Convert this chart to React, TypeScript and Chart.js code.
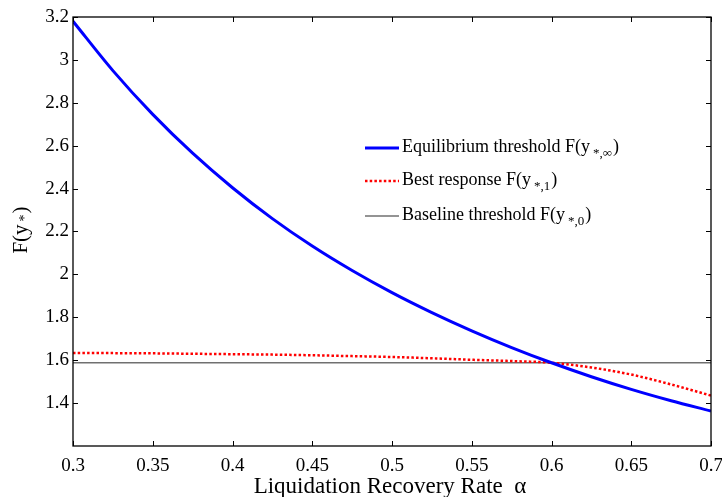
import React, { useEffect, useRef } from "react";
import { Chart, registerables } from "chart.js";

Chart.register(...registerables);

const ALPHA = [0.3, 0.325, 0.35, 0.375, 0.4, 0.425, 0.45, 0.475, 0.5, 0.525, 0.55, 0.575, 0.6, 0.625, 0.65, 0.675, 0.7];
const EQUILIBRIUM = [3.18, 2.95, 2.746, 2.565, 2.404, 2.26, 2.132, 2.018, 1.915, 1.822, 1.737, 1.659, 1.588, 1.523, 1.464, 1.411, 1.363];
const BEST_RESPONSE = [1.634, 1.633, 1.632, 1.63, 1.628, 1.626, 1.623, 1.619, 1.615, 1.609, 1.602, 1.596, 1.588, 1.566, 1.533, 1.487, 1.435];
const BASELINE = [1.588, 1.588, 1.588, 1.588, 1.588, 1.588, 1.588, 1.588, 1.588, 1.588, 1.588, 1.588, 1.588, 1.588, 1.588, 1.588, 1.588];
const X_TICKS = [0.3, 0.35, 0.4, 0.45, 0.5, 0.55, 0.6, 0.65, 0.7];
const Y_TICKS = [1.4, 1.6, 1.8, 2, 2.2, 2.4, 2.6, 2.8, 3, 3.2];

const LEGEND = [
  { label: "Equilibrium threshold F(y", sub: "*,∞", color: "#0000ff", width: 3, dash: [] as number[] },
  { label: "Best response F(y", sub: "*,1", color: "#ff0000", width: 2.5, dash: [2.5, 2.2] },
  { label: "Baseline threshold F(y", sub: "*,0", color: "#707070", width: 1.5, dash: [] as number[] },
];

const FONT = '"Liberation Serif", "Times New Roman", serif';

const fmt = (v: number) => String(Number(v.toFixed(2)));

const decorPlugin = {
  id: "decor",
  afterDraw(chart: any) {
    const { ctx, chartArea } = chart;
    const { left, right, top, bottom } = chartArea;
    const xs = chart.scales.x;
    const ys = chart.scales.y;
    ctx.save();
    ctx.strokeStyle = "#000";
    ctx.lineWidth = 1.3;
    ctx.setLineDash([]);
    ctx.strokeRect(left, top, right - left, bottom - top);
    const tl = 5;
    ctx.lineWidth = 1;
    ctx.beginPath();
    X_TICKS.forEach((v) => {
      const p = Math.round(xs.getPixelForValue(v)) + 0.5;
      ctx.moveTo(p, bottom);
      ctx.lineTo(p, bottom - tl);
      ctx.moveTo(p, top);
      ctx.lineTo(p, top + tl);
    });
    Y_TICKS.forEach((v) => {
      const p = Math.round(ys.getPixelForValue(v)) + 0.5;
      ctx.moveTo(left, p);
      ctx.lineTo(left + tl, p);
      ctx.moveTo(right, p);
      ctx.lineTo(right - tl, p);
    });
    ctx.stroke();

    // legend
    const lx0 = 365;
    const lx1 = 399;
    const ly = [148, 181, 216];
    LEGEND.forEach((it, i) => {
      ctx.strokeStyle = it.color;
      ctx.lineWidth = it.width;
      ctx.setLineDash(it.dash);
      ctx.beginPath();
      ctx.moveTo(lx0, ly[i]);
      ctx.lineTo(lx1, ly[i]);
      ctx.stroke();
      ctx.setLineDash([]);
      ctx.fillStyle = "#000";
      ctx.font = `18px ${FONT}`;
      ctx.textBaseline = "alphabetic";
      ctx.textAlign = "left";
      const tx = 402;
      const by = ly[i] + 4;
      ctx.fillText(it.label, tx, by);
      let w = ctx.measureText(it.label).width + 3;
      ctx.font = `13px ${FONT}`;
      ctx.fillText(it.sub, tx + w, by + 5);
      w += ctx.measureText(it.sub).width + 1;
      ctx.font = `18px ${FONT}`;
      ctx.fillText(")", tx + w, by);
    });

    // x title
    ctx.fillStyle = "#000";
    ctx.font = `23px ${FONT}`;
    ctx.textAlign = "center";
    ctx.textBaseline = "alphabetic";
    ctx.fillText("Liquidation Recovery Rate  α", (left + right) / 2 - 2, 493);

    // y title
    ctx.translate(27, 230);
    ctx.rotate(-Math.PI / 2);
    ctx.textAlign = "left";
    ctx.font = `21px ${FONT}`;
    const main = "F(y";
    const mw = ctx.measureText(main).width;
    ctx.font = `14px ${FONT}`;
    const sw = ctx.measureText("*").width;
    ctx.font = `21px ${FONT}`;
    const cw = ctx.measureText(")").width;
    const total = mw + 3 + sw + 1 + cw;
    let x = -total / 2;
    ctx.fillText(main, x, 0);
    x += mw + 3;
    ctx.font = `14px ${FONT}`;
    ctx.fillText("*", x, 2);
    x += sw + 1;
    ctx.font = `21px ${FONT}`;
    ctx.fillText(")", x, 0);
    ctx.restore();
  },
};

export default function App() {
  const ref = useRef<HTMLCanvasElement | null>(null);
  useEffect(() => {
    document.body.style.margin = "0";
    if (!ref.current) return;
    const mk = (arr: number[]) => ALPHA.map((a, i) => ({ x: a, y: arr[i] }));
    const chart = new Chart(ref.current, {
      type: "line",
      data: {
        datasets: [
          {
            label: "Baseline threshold",
            data: mk(BASELINE),
            borderColor: "#707070",
            borderWidth: 1.5,
            pointRadius: 0,
            order: 3,
          },
          {
            label: "Best response",
            data: mk(BEST_RESPONSE),
            borderColor: "#ff0000",
            borderWidth: 2.5,
            borderDash: [2.5, 2.2],
            pointRadius: 0,
            cubicInterpolationMode: "monotone",
            order: 2,
          },
          {
            label: "Equilibrium threshold",
            data: mk(EQUILIBRIUM),
            borderColor: "#0000ff",
            borderWidth: 3,
            pointRadius: 0,
            cubicInterpolationMode: "monotone",
            order: 1,
          },
        ],
      },
      options: {
        animation: false,
        responsive: false,
        layout: { padding: { left: 0, top: 17, right: 11, bottom: 0 } },
        plugins: { legend: { display: false }, tooltip: { enabled: false } },
        scales: {
          x: {
            type: "linear",
            min: 0.3,
            max: 0.7,
            afterBuildTicks: (s: any) => {
              s.ticks = X_TICKS.map((v) => ({ value: v }));
            },
            afterFit: (s: any) => {
              s.height = 51;
              s.paddingRight = 0;
              s.paddingLeft = 0;
            },
            grid: { display: false, drawTicks: false },
            border: { display: false },
            ticks: {
              padding: 9,
              color: "#000",
              font: { family: FONT, size: 19 },
              callback: (v: any) => fmt(Number(v)),
              maxRotation: 0,
              autoSkip: false,
            },
          },
          y: {
            type: "linear",
            min: 1.2,
            max: 3.2,
            afterBuildTicks: (s: any) => {
              s.ticks = Y_TICKS.map((v) => ({ value: v }));
            },
            afterFit: (s: any) => {
              s.width = 73;
              s.paddingTop = 0;
              s.paddingBottom = 0;
            },
            grid: { display: false, drawTicks: false },
            border: { display: false },
            ticks: {
              padding: 4,
              color: "#000",
              font: { family: FONT, size: 19 },
              callback: (v: any) => fmt(Number(v)),
              autoSkip: false,
            },
          },
        },
      },
      plugins: [decorPlugin],
    });
    return () => chart.destroy();
  }, []);
  return (
    <div style={{ width: 722, height: 497, background: "#fff" }}>
      <canvas ref={ref} width={722} height={497} />
    </div>
  );
}
